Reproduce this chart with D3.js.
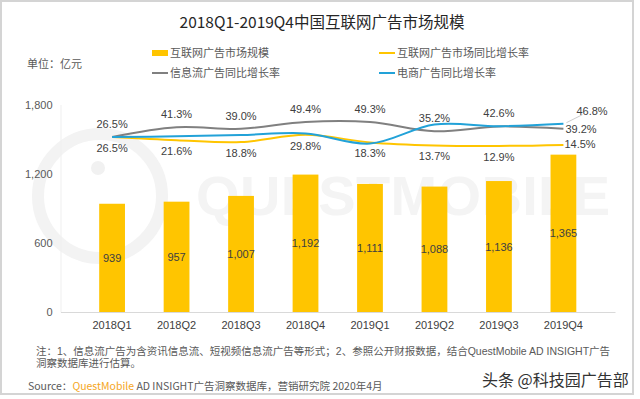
<!DOCTYPE html>
<html>
<head>
<meta charset="utf-8">
<script src="https://cdn.jsdelivr.net/npm/d3@7"></script>
<style>
  body { margin: 0; background: #fff; }
  svg text { font-family: "Liberation Sans", Arial, "Noto Sans CJK SC", sans-serif; }
  .cjk { font-family: "Noto Sans CJK SC", "Microsoft YaHei", sans-serif; }
</style>
</head>
<body>
<div id="chart"></div>
<script>
// quarters on the x axis
const quarters = ['2018Q1', '2018Q2', '2018Q3', '2018Q4', '2019Q1', '2019Q2', '2019Q3', '2019Q4'];
// market size, 100 million yuan
const marketSize = [939, 957, 1007, 1192, 1111, 1088, 1136, 1365];
// year-on-year growth rates, %
const marketGrowth = [26.5, 21.6, 18.8, 29.8, 18.3, 13.7, 12.9, 14.5];
const feedGrowth = [26.5, 41.3, 39.0, 49.4, 49.3, 35.2, 42.6, 39.2];
const ecomGrowth = [26.5, 27.5, 29.5, 32.0, 16.5, 45.5, 43.0, 46.8];
const yTicks = [0, 600, 1200, 1800];

const width = 640;
const height = 399;

const colors = {
  bar: '#FFC500',
  market: '#FFC500',
  feed: '#808080',
  ecom: '#22A2D8'
};

const svg = d3.select('#chart').append('svg')
  .attr('width', width)
  .attr('height', height);

// frame
svg.append('rect')
  .attr('x', 1).attr('y', 1)
  .attr('width', 632).attr('height', 393)
  .attr('fill', '#fff')
  .attr('stroke', '#d4d4d4')
  .attr('stroke-width', 2);

// faint watermark
const wm = svg.append('g').attr('class', 'watermark');
wm.append('circle')
  .attr('cx', 100).attr('cy', 196).attr('r', 62)
  .attr('fill', 'none').attr('stroke', '#f3f3f3').attr('stroke-width', 12);
wm.append('circle')
  .attr('cx', 98).attr('cy', 168).attr('r', 7)
  .attr('fill', '#f1f1f1');
wm.append('text')
  .attr('x', 196).attr('y', 215)
  .attr('textLength', 414)
  .attr('lengthAdjust', 'spacing')
  .style('font-size', '56px')
  .style('font-weight', 'bold')
  .style('font-family', '"Liberation Sans", sans-serif')
  .attr('fill', '#f4f4f4')
  .text('QUESTMOBILE');

// scales
const x = d3.scaleBand()
  .domain(quarters)
  .range([60.5, 615])
  .padding(0.6);

const y = d3.scaleLinear()
  .domain([0, 1800])
  .range([312, 104.5]);

// hidden secondary axis for the growth rates
const y2 = d3.scaleLinear()
  .domain([-240, 76])
  .range([312, 104.5]);

const cx = q => x(q) + x.bandwidth() / 2;

// title
svg.append('text')
  .attr('class', 'cjk')
  .attr('x', 322).attr('y', 28)
  .attr('text-anchor', 'middle')
  .style('font-size', '15.5px')
  .attr('fill', '#262626')
  .text('2018Q1-2019Q4中国互联网广告市场规模');

svg.append('text')
  .attr('class', 'cjk')
  .attr('x', 27).attr('y', 68)
  .style('font-size', '11px')
  .attr('fill', '#595959')
  .text('单位：亿元');

// legend
const legendItems = [
  { name: '互联网广告市场规模', color: colors.bar, type: 'rect', x: 152, y: 53 },
  { name: '互联网广告市场同比增长率', color: colors.market, type: 'line', x: 379, y: 53 },
  { name: '信息流广告同比增长率', color: colors.feed, type: 'line', x: 152, y: 73 },
  { name: '电商广告同比增长率', color: colors.ecom, type: 'line', x: 379, y: 73 }
];

const legend = svg.append('g').attr('class', 'legend');
legendItems.forEach(d => {
  if (d.type === 'rect') {
    legend.append('rect')
      .attr('x', d.x).attr('y', d.y - 3)
      .attr('width', 16).attr('height', 6)
      .attr('fill', d.color);
  } else {
    legend.append('line')
      .attr('x1', d.x).attr('x2', d.x + 16)
      .attr('y1', d.y).attr('y2', d.y)
      .attr('stroke', d.color).attr('stroke-width', 2);
  }
  legend.append('text')
    .attr('class', 'cjk')
    .attr('x', d.x + 18).attr('y', d.y + 4)
    .style('font-size', '11px')
    .attr('fill', '#595959')
    .text(d.name);
});

// axes
const yAxis = d3.axisLeft(y)
  .tickValues(yTicks)
  .tickSize(0)
  .tickPadding(8)
  .tickFormat(d3.format(','));

const gy = svg.append('g')
  .attr('class', 'y axis')
  .attr('transform', 'translate(60.5,0)')
  .call(yAxis);
gy.select('.domain').attr('stroke', '#efefef');
gy.selectAll('text')
  .style('font-size', '11px')
  .attr('fill', '#595959');

const xAxis = d3.axisBottom(x).tickSize(0).tickPadding(9);
const gx = svg.append('g')
  .attr('class', 'x axis')
  .attr('transform', 'translate(0,312)')
  .call(xAxis);
gx.select('.domain').attr('stroke', '#d9d9d9');
gx.selectAll('text')
  .style('font-size', '11px')
  .attr('fill', '#404040');

// bars
const barData = quarters.map((q, i) => ({ q, v: marketSize[i] }));

svg.append('g').selectAll('.bar')
  .data(barData)
  .enter().append('rect')
    .attr('class', 'bar')
    .attr('x', d => x(d.q))
    .attr('y', d => y(d.v))
    .attr('width', x.bandwidth())
    .attr('height', d => y(0) - y(d.v))
    .attr('fill', colors.bar);

svg.append('g').selectAll('.bar-label')
  .data(barData)
  .enter().append('text')
    .attr('class', 'bar-label')
    .attr('x', d => cx(d.q))
    .attr('y', d => (y(d.v) + y(0)) / 2 + 4)
    .attr('text-anchor', 'middle')
    .style('font-size', '11px')
    .attr('fill', '#404040')
    .text(d => d3.format(',')(d.v));

// growth lines
const line = d3.line()
  .x(d => cx(d.q))
  .y(d => y2(d.v))
  .curve(d3.curveCatmullRom.alpha(0.5));

const series = [
  { key: 'feed', values: feedGrowth, color: colors.feed },
  { key: 'market', values: marketGrowth, color: colors.market },
  { key: 'ecom', values: ecomGrowth, color: colors.ecom }
];

series.forEach(s => {
  s.points = quarters.map((q, i) => ({ q, v: s.values[i] }));
  svg.append('path')
    .datum(s.points)
    .attr('class', 'line ' + s.key)
    .attr('fill', 'none')
    .attr('stroke', s.color)
    .attr('stroke-width', 2)
    .attr('d', line);
});

const pct = v => v.toFixed(1) + '%';
const labelGroup = svg.append('g').attr('class', 'rate-labels');

function addLabel(px, py, txt, anchor) {
  labelGroup.append('text')
    .attr('x', px).attr('y', py)
    .attr('text-anchor', anchor || 'middle')
    .style('font-size', '11px')
    .attr('fill', '#404040')
    .text(txt);
}

const last = quarters.length - 1;

// info-feed labels above, market labels below
series[0].points.forEach((d, i) => {
  if (i === last) {
    addLabel(cx(d.q) + 2, y2(d.v) + 4, pct(d.v), 'start');
  } else {
    addLabel(cx(d.q), y2(d.v) - 9, pct(d.v));
  }
});
series[1].points.forEach((d, i) => {
  if (i === last) {
    addLabel(cx(d.q) + 1, y2(d.v) + 3, pct(d.v), 'start');
  } else {
    addLabel(cx(d.q), y2(d.v) + 15, pct(d.v));
  }
});

// e-commerce: only the last point, with a leader line
const eLast = series[2].points[last];
labelGroup.append('line')
  .attr('x1', cx(eLast.q) + 3).attr('y1', y2(eLast.v) - 1)
  .attr('x2', cx(eLast.q) + 19).attr('y2', y2(eLast.v) - 9)
  .attr('stroke', '#bfbfbf').attr('stroke-width', 0.8);
addLabel(cx(eLast.q) + 13, y2(eLast.v) - 9, pct(eLast.v), 'start');

// notes
const notes = svg.append('g').attr('class', 'notes cjk');
notes.append('text')
  .attr('x', 36).attr('y', 355)
  .style('font-size', '10.5px')
  .attr('fill', '#595959')
  .text('注：1、信息流广告为含资讯信息流、短视频信息流广告等形式；2、参照公开财报数据，结合QuestMobile AD INSIGHT广告');
notes.append('text')
  .attr('x', 36).attr('y', 367)
  .style('font-size', '10.5px')
  .attr('fill', '#595959')
  .text('洞察数据库进行估算。');

const source = svg.append('text')
  .attr('class', 'cjk')
  .attr('x', 28).attr('y', 390)
  .style('font-size', '10.5px')
  .attr('fill', '#595959');
source.append('tspan').text('Source：');
source.append('tspan').attr('fill', '#F5A623').text('QuestMobile');
source.append('tspan').text(' AD INSIGHT广告洞察数据库，营销研究院 2020年4月');

svg.append('text')
  .attr('class', 'cjk')
  .attr('x', 482).attr('y', 386)
  .style('font-size', '16px')
  .attr('fill', '#333')
  .text('头条 @科技园广告部');
</script>
</body>
</html>
